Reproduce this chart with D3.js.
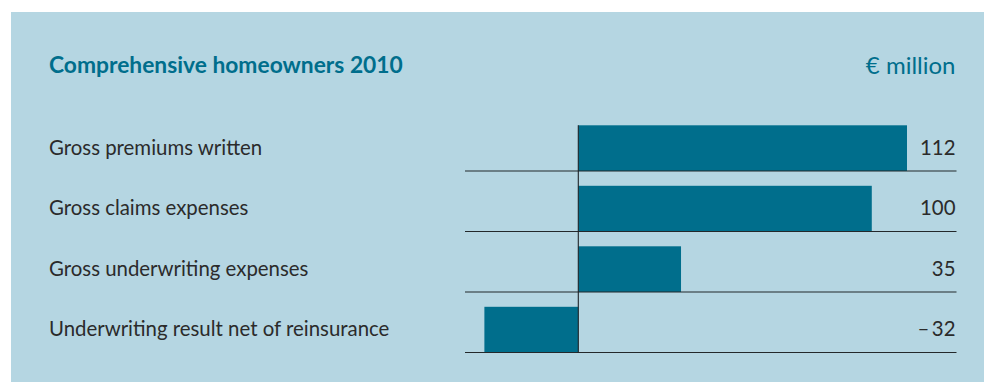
<!DOCTYPE html>
<html>
<head>
<meta charset="utf-8">
<script src="https://cdn.jsdelivr.net/npm/d3@7"></script>
<style>
  html, body { margin: 0; padding: 0; background: #ffffff; }
  svg { display: block; }
</style>
</head>
<body>
<svg id="chart" width="984" height="382"></svg>
<script>
const categories = [
  "Gross premiums written",
  "Gross claims expenses",
  "Gross underwriting expenses",
  "Underwriting result net of reinsurance"
];
const values = [112, 100, 35, -32];
const valueLabels = ["112", "100", "35", "\u2013\u200932"];
const title = "Comprehensive homeowners 2010";
const unit = "\u20ac million";

const svg = d3.select("#chart");
const font = "Lato, 'Open Sans', sans-serif";

// panel background
svg.append("rect")
  .attr("x", 11).attr("y", 12)
  .attr("width", 973).attr("height", 370)
  .attr("fill", "#b5d6e2");

// header
svg.append("text")
  .attr("x", 49).attr("y", 73.3)
  .attr("font-family", font)
  .attr("font-weight", 700)
  .attr("font-size", 22.8)
  .attr("fill", "#006e8c")
  .text(title);

svg.append("text")
  .attr("x", 955.5).attr("y", 74)
  .attr("text-anchor", "end")
  .attr("font-family", font)
  .attr("font-size", 24)
  .attr("fill", "#006e8c")
  .text(unit);

// scales
const x = d3.scaleLinear().domain([0, 112]).range([578.3, 907]);
const y = d3.scaleBand().domain(categories).range([110.5, 352.5]);
const barH = 45.7;
const lineX0 = 465, lineX1 = 956.5;

const rows = svg.append("g")
  .selectAll("g")
  .data(categories.map((c, i) => ({ c, v: values[i], label: valueLabels[i] })))
  .join("g");

// bars
rows.append("rect")
  .attr("x", d => x(Math.min(0, d.v)))
  .attr("y", d => y(d.c) + y.bandwidth() - barH)
  .attr("width", d => Math.abs(x(d.v) - x(0)))
  .attr("height", barH)
  .attr("fill", "#006e8c");

// row separators
rows.append("line")
  .attr("x1", lineX0).attr("x2", lineX1)
  .attr("y1", d => y(d.c) + y.bandwidth())
  .attr("y2", d => y(d.c) + y.bandwidth())
  .attr("stroke", "#23282b")
  .attr("stroke-width", 1.1);

// category labels
rows.append("text")
  .attr("x", 49)
  .attr("y", d => y(d.c) + y.bandwidth() - barH / 2 + 6.5)
  .attr("font-family", font)
  .attr("font-size", 20.4)
  .attr("fill", "#2b2b2b")
  .text(d => d.c);

// value labels
rows.append("text")
  .attr("x", 955.5)
  .attr("y", d => y(d.c) + y.bandwidth() - barH / 2 + 6.5)
  .attr("text-anchor", "end")
  .attr("font-family", font)
  .attr("font-size", 20.4)
  .attr("fill", "#2b2b2b")
  .text(d => d.label);

// zero axis
svg.append("line")
  .attr("x1", x(0)).attr("x2", x(0))
  .attr("y1", y(categories[0]) + y.bandwidth() - barH)
  .attr("y2", y.range()[1])
  .attr("stroke", "#1e2326")
  .attr("stroke-width", 1.1);
</script>
</body>
</html>
